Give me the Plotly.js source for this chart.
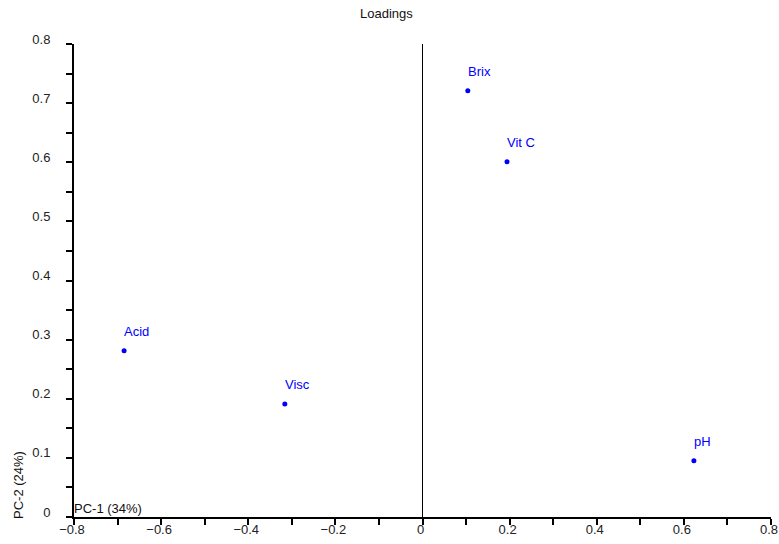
<!DOCTYPE html>
<html>
<head>
<meta charset="utf-8">
<script src="https://cdn.plot.ly/plotly-3.0.1.min.js"></script>
<style>html,body{margin:0;padding:0;background:#fff}#chart{width:779px;height:544px}</style>
</head>
<body>
<div id="chart"></div>
<script>
const variables = ["Brix", "Vit C", "Acid", "Visc", "pH"];
const pc1 = [0.104, 0.194, -0.685, -0.316, 0.623];
const pc2 = [0.721, 0.601, 0.281, 0.191, 0.095];
const xTitle = "PC-1 (34%)";
const yTitle = "PC-2 (24%)";
const chartTitle = "Loadings";

const fontFam = "Liberation Sans, Arial, sans-serif";
const trace = {
  x: pc1, y: pc2, mode: "markers", type: "scatter",
  marker: {color: "#0000ff", size: 5},
  hoverinfo: "none", showlegend: false
};
const labelAnns = variables.map((v, i) => ({
  x: pc1[i], y: pc2[i], xref: "x", yref: "y", text: v, showarrow: false,
  xanchor: "left", yanchor: "bottom", xshift: -2, yshift: 10,
  font: {family: fontFam, size: 13, color: "#0000ff"}
}));
const layout = {
  width: 779, height: 544,
  margin: {l: 74, r: 8, t: 44, b: 27},
  paper_bgcolor: "#fff", plot_bgcolor: "#fff",
  title: {text: chartTitle, x: 0.496, xanchor: "center", y: 0.975, yanchor: "middle",
          font: {family: fontFam, size: 13, color: "#111"}},
  xaxis: {
    range: [-0.8, 0.8], dtick: 0.2, tick0: 0, showgrid: false,
    zeroline: true, zerolinecolor: "#000", zerolinewidth: 1,
    showline: true, linecolor: "#000", linewidth: 2,
    ticks: "outside", ticklen: 6, tickwidth: 2, tickcolor: "#000",
    minor: {dtick: 0.1, ticks: "outside", ticklen: 6, tickwidth: 2, tickcolor: "#000", showgrid: false},
    tickfont: {family: fontFam, size: 13, color: "#222"},
    ticklabelstandoff: -7, ticklabelshift: -2, fixedrange: true, automargin: false
  },
  yaxis: {
    range: [0, 0.8], dtick: 0.1, tick0: 0, showgrid: false, zeroline: false,
    showline: true, linecolor: "#000", linewidth: 2,
    ticks: "outside", ticklen: 6, tickwidth: 2, tickcolor: "#000",
    minor: {dtick: 0.05, ticks: "outside", ticklen: 6, tickwidth: 2, tickcolor: "#000", showgrid: false},
    tickfont: {family: fontFam, size: 13, color: "#222"},
    ticklabelstandoff: 13, ticklabelshift: -5, fixedrange: true, automargin: false
  },
  annotations: labelAnns.concat([
    {x: 0, y: 0, xref: "paper", yref: "paper", text: xTitle, showarrow: false,
     xanchor: "left", yanchor: "bottom", xshift: -2, yshift: -1,
     font: {family: fontFam, size: 13, color: "#111"}},
    {x: 0, y: 0, xref: "paper", yref: "paper", text: yTitle, showarrow: false,
     textangle: -90, xanchor: "center", yanchor: "bottom", xshift: -56, yshift: -4,
     font: {family: fontFam, size: 13, color: "#111"}}
  ])
};
Plotly.newPlot("chart", [trace], layout, {displayModeBar: false, staticPlot: true});
</script>
</body>
</html>
